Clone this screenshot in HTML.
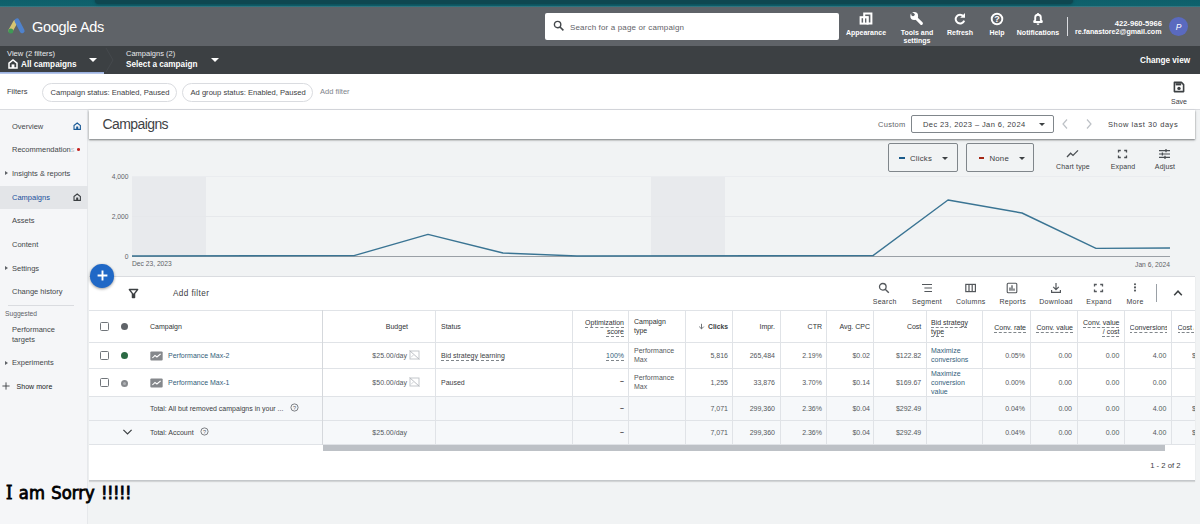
<!DOCTYPE html>
<html lang="en">
<head>
<meta charset="utf-8">
<title>Google Ads - Campaigns</title>
<style>
*{box-sizing:border-box;margin:0;padding:0}
html,body{width:1200px;height:524px;overflow:hidden;background:#f1f3f4;font-family:"Liberation Sans",sans-serif;color:#3c4043}
.a{position:absolute;white-space:nowrap}
#page{position:relative;width:1200px;height:524px;overflow:hidden;background:#f1f3f4}
/* top bands */
#teal{left:0;top:0;width:1200px;height:8px;background:linear-gradient(#0d5f6a 0,#0f626d 5.5px,#3c7d88 6.8px,#5f6f74 8px)}
#teal2{left:95px;top:0;width:978px;height:4px;background:#0f4750;border-radius:0 0 5px 5px;box-shadow:0 0 2.5px 0.5px #0f4750}
#hdr{left:0;top:7px;width:1200px;height:39px;background:#5f6368}
#nav{left:0;top:46px;width:1200px;height:28px;background:#3c4043}
#filt{left:0;top:74px;width:1200px;height:36px;background:#fff;border-bottom:1px solid #dadce0}
#side{left:0;top:110px;width:88px;height:414px;background:#f5f6f8;border-right:1px solid #e6e8eb}
.wt{color:#fff}
.hl{font-size:7px;font-weight:bold;color:#fff;text-align:center}
.chip{height:19px;border:1px solid #dadce0;border-radius:10px;font-size:7.6px;line-height:17px;color:#3c4043;padding:0 8px;background:#fff}
.sb{font-size:7.5px;color:#44474a;left:12px}
.tri{width:0;height:0;border-left:3px solid #5f6368;border-top:2px solid transparent;border-bottom:2px solid transparent}
/* table */
.vl{width:1px;background:#e0e3e7;top:310px;height:135px}
.hlne{height:1px;background:#e0e3e7;left:89px;width:1106px}
.th{font-size:7px;color:#303336;line-height:8px}
.td{font-size:7px;color:#54585c;line-height:8px}
.r{text-align:right}
.du{text-decoration:underline dashed #80868b;text-underline-offset:1.5px;text-decoration-thickness:1px}
.tb{font-size:7px;color:#3c4043;text-align:center;letter-spacing:0.15px}
.cb{width:9px;height:9px;border:1px solid #70757a;border-radius:1.5px;background:#fff}
</style>
</head>
<body>
<div id="page">
<div class="a" id="teal"></div>
<div class="a" id="teal2"></div>
<div class="a" id="hdr"></div>
<div class="a" id="nav"></div>
<div class="a" id="filt"></div>
<div class="a" id="side"></div>

<!-- logo -->
<svg class="a" style="left:7px;top:17px" width="20" height="19" viewBox="0 0 20 19">
<path d="M3.6 13.6 L8.2 5.4" stroke="#d6c472" stroke-width="4.4" stroke-linecap="round" fill="none"/>
<path d="M10 3.8 L15.2 13.8" stroke="#4f82cc" stroke-width="4.8" stroke-linecap="round" fill="none"/>
<circle cx="3.8" cy="14" r="2.5" fill="#3f9956"/>
</svg>
<div class="a wt" style="left:32px;top:18px;font-size:14.5px;line-height:18px;letter-spacing:-0.3px">Google Ads</div>

<!-- search -->
<div class="a" style="left:545px;top:13px;width:294px;height:27px;background:#fff;border-radius:2px"></div>
<svg class="a" style="left:553px;top:20px" width="12" height="12" viewBox="0 0 12 12"><circle cx="4.6" cy="4.6" r="3.2" fill="none" stroke="#44484c" stroke-width="1.4"/><path d="M7 7 L10.4 10.4" stroke="#44484c" stroke-width="1.6"/></svg>
<div class="a" style="left:570px;top:22.7px;font-size:8px;line-height:10px;color:#5f6368;letter-spacing:0.15px">Search for a page or campaign</div>

<!-- header icons -->
<svg class="a" style="left:859px;top:12px" width="14" height="13" viewBox="0 0 14 13"><path d="M5.2 1.4 H12.4 V11.6 H8.6 V5.2 H5.2 Z" fill="none" stroke="#fff" stroke-width="2"/><rect x="1.6" y="5.2" width="7" height="6.4" fill="none" stroke="#fff" stroke-width="2"/><rect x="4.1" y="6" width="1.9" height="5" fill="#fff"/></svg>
<div class="a hl" style="left:840px;top:28.5px;width:52px">Appearance</div>
<svg class="a" style="left:909px;top:11px" width="15" height="15" viewBox="0 0 15 15"><circle cx="5.2" cy="5" r="3.9" fill="#fff"/><circle cx="4" cy="3.6" r="1.7" fill="#5f6368"/><path d="M2 1.2 L4.6 3.8" stroke="#5f6368" stroke-width="1.8"/><path d="M7 7 L12.4 12.4" stroke="#fff" stroke-width="3" stroke-linecap="round"/></svg>
<div class="a hl" style="left:892px;top:28.5px;width:50px;white-space:normal;line-height:8px">Tools and settings</div>
<svg class="a" style="left:953px;top:12px" width="14" height="14" viewBox="0 0 14 14"><path d="M10.4 4.2 A4.4 4.4 0 1 0 11.2 8.6" fill="none" stroke="#fff" stroke-width="2"/><path d="M12 1 V5.8 H7.2 Z" fill="#fff"/></svg>
<div class="a hl" style="left:940px;top:28.5px;width:40px">Refresh</div>
<svg class="a" style="left:990px;top:12px" width="14" height="14" viewBox="0 0 14 14"><circle cx="7" cy="7" r="5.3" fill="none" stroke="#fff" stroke-width="1.9"/><text x="7" y="10.2" font-size="9" font-weight="bold" fill="#fff" text-anchor="middle" font-family="Liberation Sans, sans-serif">?</text></svg>
<div class="a hl" style="left:980px;top:28.5px;width:34px">Help</div>
<svg class="a" style="left:1031px;top:12px" width="14" height="14" viewBox="0 0 14 14"><path d="M3.2 10 V9.2 L4.2 8.2 V5.6 A2.8 2.8 0 0 1 9.8 5.6 V8.2 L10.8 9.2 V10 Z" fill="none" stroke="#fff" stroke-width="1.9" stroke-linejoin="round"/><circle cx="7" cy="2" r="1.1" fill="#fff"/><path d="M5.6 11.6 H8.4 A1.4 1.4 0 0 1 5.6 11.6Z" fill="#fff"/></svg>
<div class="a hl" style="left:1012px;top:28.5px;width:52px">Notifications</div>
<div class="a" style="left:1067px;top:17px;width:1px;height:19px;background:#dadce0"></div>
<div class="a hl r" style="left:1070px;top:18.5px;width:92px;text-align:right;font-weight:bold;font-size:7.6px">422-960-5966</div>
<div class="a hl r" style="left:1070px;top:27.7px;width:91.5px;text-align:right;font-weight:bold;font-size:7.1px">re.fanastore2@gmail.com</div>
<div class="a" style="left:1169px;top:17px;width:19px;height:19px;border-radius:50%;background:#5a6abf"></div>
<div class="a wt" style="left:1169px;top:22px;width:19px;text-align:center;font-size:8.5px;line-height:10px;font-style:italic">P</div>

<!-- nav bar -->
<div class="a wt" style="left:7px;top:50px;font-size:7.6px;line-height:8px;color:#e8eaed">View (2 filters)</div>
<svg class="a" style="left:8px;top:59px" width="10" height="10" viewBox="0 0 10 10"><path d="M1 4.2 L5 1 L9 4.2 V9 H1 Z" fill="none" stroke="#fff" stroke-width="1.5"/><rect x="3.6" y="5.4" width="2.8" height="3.6" fill="#fff"/></svg>
<div class="a wt" style="left:21px;top:60px;font-size:8.2px;line-height:9px;font-weight:bold">All campaigns</div>
<div class="a" style="left:89px;top:58px;width:0;height:0;border-top:4px solid #fff;border-left:4.5px solid transparent;border-right:4.5px solid transparent"></div>
<div class="a" style="left:0;top:72px;width:104px;height:2px;background:linear-gradient(#8fa9dc,#c3d0ee)"></div>
<svg class="a" style="left:104px;top:46px" width="12" height="28" viewBox="0 0 12 28"><path d="M2 2 L9 14 L2 26" fill="none" stroke="#45494d" stroke-width="1"/></svg>
<div class="a wt" style="left:126px;top:50px;font-size:7.5px;line-height:8px;color:#e8eaed">Campaigns (2)</div>
<div class="a wt" style="left:126px;top:60px;font-size:8.2px;line-height:9px;font-weight:bold">Select a campaign</div>
<div class="a" style="left:211px;top:58px;width:0;height:0;border-top:4px solid #fff;border-left:4.5px solid transparent;border-right:4.5px solid transparent"></div>
<div class="a wt" style="left:1140px;top:56px;font-size:8.2px;line-height:9px;font-weight:bold">Change view</div>

<!-- filter bar -->
<div class="a" style="left:7px;top:86.6px;font-size:7.5px;line-height:9px;color:#3c4043">Filters</div>
<div class="a chip" style="left:42px;top:82.8px;width:135px;padding-left:7.5px">Campaign status: Enabled, Paused</div>
<div class="a chip" style="left:182px;top:82.8px;width:130.5px;padding-left:7.5px">Ad group status: Enabled, Paused</div>
<div class="a" style="left:320px;top:87.4px;font-size:7.5px;line-height:9px;color:#80868b">Add filter</div>
<svg class="a" style="left:1173px;top:81px" width="12" height="12" viewBox="0 0 12 12"><path d="M1.4 1.4 H8.4 L10.6 3.6 V10.6 H1.4 Z" fill="none" stroke="#3c4043" stroke-width="1.6" stroke-linejoin="round"/><rect x="2.6" y="2.2" width="5.6" height="2.2" fill="#3c4043"/><circle cx="6" cy="7.4" r="1.7" fill="#3c4043"/></svg>
<div class="a" style="left:1169px;top:97.5px;width:20px;text-align:center;font-size:7px;line-height:8px;color:#3c4043">Save</div>

<!-- sidebar -->
<div class="a" style="left:0;top:186px;width:88px;height:23px;background:#e3e5e8"></div>
<div class="a sb" style="top:122px;line-height:9px">Overview</div>
<svg class="a" style="left:73px;top:122.4px" width="8.4" height="8.4" viewBox="0 0 10 10"><path d="M1.2 4.2 L5 1.2 L8.8 4.2 V8.8 H1.2 Z" fill="none" stroke="#1a5a96" stroke-width="1.3"/><rect x="3.8" y="5.4" width="2.4" height="3.4" fill="#1a5a96"/></svg>
<div class="a sb" style="top:145px;line-height:9px">Recommendation<span style="color:#bdc1c6">s</span></div>
<div class="a" style="left:77px;top:148.3px;width:3px;height:2.6px;border-radius:50%;background:#c5221f"></div>
<div class="a tri" style="left:5px;top:171px"></div>
<div class="a sb" style="top:169px;line-height:9px">Insights &amp; reports</div>
<div class="a sb" style="top:193px;line-height:9px;color:#1a4f9c">Campaigns</div>
<svg class="a" style="left:73px;top:193.4px" width="8.4" height="8.4" viewBox="0 0 10 10"><path d="M1.2 4.2 L5 1.2 L8.8 4.2 V8.8 H1.2 Z" fill="none" stroke="#3c4043" stroke-width="1.3"/><rect x="3.8" y="5.4" width="2.4" height="3.4" fill="#3c4043"/></svg>
<div class="a sb" style="top:216px;line-height:9px">Assets</div>
<div class="a sb" style="top:240px;line-height:9px">Content</div>
<div class="a tri" style="left:5px;top:266px"></div>
<div class="a sb" style="top:264px;line-height:9px">Settings</div>
<div class="a sb" style="top:287px;line-height:9px">Change history</div>
<div class="a" style="left:8px;top:305px;width:66px;height:1px;background:#dadce0"></div>
<div class="a" style="left:5px;top:310px;font-size:6.7px;line-height:8px;color:#5f6368">Suggested</div>
<div class="a sb" style="top:325px;line-height:9.5px;white-space:normal;width:60px">Performance targets</div>
<div class="a tri" style="left:5px;top:361px"></div>
<div class="a sb" style="top:358px;line-height:9px">Experiments</div>
<svg class="a" style="left:2px;top:381.5px" width="8" height="8" viewBox="0 0 8 8"><path d="M4 0.4 V7.6 M0.4 4 H7.6" stroke="#3c4043" stroke-width="0.9"/></svg>
<div class="a" style="left:16.5px;top:382.8px;font-size:7px;line-height:8px;color:#202124;letter-spacing:0.05px">Show more</div>

<!-- main title row -->
<div class="a" style="left:89px;top:110px;width:1106px;height:28.6px;background:#fff;box-shadow:0 1px 1.5px rgba(60,64,67,.55),0 1px 3px rgba(60,64,67,.2)"></div>
<div class="a" style="left:102.6px;top:115.6px;font-size:14px;line-height:17px;color:#3f4346;letter-spacing:-0.6px">Campaigns</div>
<div class="a" style="left:878px;top:120.4px;font-size:7.5px;line-height:9px;color:#5f6368;letter-spacing:0.3px">Custom</div>
<div class="a" style="left:911.4px;top:115.4px;width:142.4px;height:18px;border:1px solid #80868b;border-radius:2px;background:#fff"></div>
<div class="a" style="left:923px;top:120.4px;font-size:7.5px;line-height:9px;color:#3c4043;letter-spacing:0.4px">Dec 23, 2023 – Jan 6, 2024</div>
<div class="a" style="left:1039px;top:123.4px;width:0;height:0;border-top:3px solid #3c4043;border-left:3px solid transparent;border-right:3px solid transparent"></div>
<svg class="a" style="left:1061px;top:118.4px" width="8" height="12" viewBox="0 0 8 12"><path d="M6 1.5 L2 6 L6 10.5" fill="none" stroke="#bdc1c6" stroke-width="1.2"/></svg>
<svg class="a" style="left:1085px;top:118.4px" width="8" height="12" viewBox="0 0 8 12"><path d="M2 1.5 L6 6 L2 10.5" fill="none" stroke="#bdc1c6" stroke-width="1.2"/></svg>
<div class="a" style="left:1108px;top:120.4px;font-size:7.5px;line-height:9px;color:#3c4043;letter-spacing:0.55px">Show last 30 days</div>

<!-- chart -->
<div class="a" style="left:887.5px;top:143.4px;width:70px;height:28.2px;border:1px solid #80868b;border-radius:2px"></div>
<div class="a" style="left:899px;top:157.4px;width:5.5px;height:2px;background:#1a5a8a"></div>
<div class="a" style="left:910px;top:153.5px;font-size:7.8px;line-height:9px;color:#3c4043;letter-spacing:0.2px">Clicks</div>
<div class="a" style="left:942px;top:156.6px;width:0;height:0;border-top:3px solid #3c4043;border-left:3px solid transparent;border-right:3px solid transparent"></div>
<div class="a" style="left:965.8px;top:143.4px;width:67.8px;height:28.2px;border:1px solid #80868b;border-radius:2px"></div>
<div class="a" style="left:978.5px;top:157.4px;width:5.5px;height:2px;background:#a52714"></div>
<div class="a" style="left:989.5px;top:153.5px;font-size:7.8px;line-height:9px;color:#3c4043;letter-spacing:0.2px">None</div>
<div class="a" style="left:1019px;top:156.6px;width:0;height:0;border-top:3px solid #3c4043;border-left:3px solid transparent;border-right:3px solid transparent"></div>
<svg class="a" style="left:1066px;top:149px" width="13" height="10" viewBox="0 0 13 10"><path d="M1 8 L4.6 4.2 L7 6.4 L12 1.4" fill="none" stroke="#4a4e52" stroke-width="1.3"/></svg>
<div class="a tb" style="left:1052px;top:162.8px;width:42px;line-height:8px">Chart type</div>
<svg class="a" style="left:1117px;top:149px" width="11" height="10" viewBox="0 0 11 10"><path d="M1.5 3.6 V1.5 H3.8 M7.2 1.5 H9.5 V3.6 M9.5 6.4 V8.5 H7.2 M3.8 8.5 H1.5 V6.4" fill="none" stroke="#4a4e52" stroke-width="1.3"/></svg>
<div class="a tb" style="left:1104px;top:162.8px;width:38px;line-height:8px">Expand</div>
<svg class="a" style="left:1158px;top:148px" width="13" height="12" viewBox="0 0 13 12"><path d="M1 2.6 H12 M1 6 H12 M1 9.4 H12" stroke="#4a4e52" stroke-width="1.1"/><path d="M8 1 V4.2 M4.4 4.4 V7.6 M7 7.8 V11" stroke="#4a4e52" stroke-width="1.3"/></svg>
<div class="a tb" style="left:1146px;top:162.8px;width:38px;line-height:8px">Adjust</div>

<div class="a" style="left:132px;top:176px;width:74px;height:80px;background:#e8eaed"></div>
<div class="a" style="left:651px;top:176px;width:74px;height:80px;background:#e8eaed"></div>
<div class="a" style="left:132px;top:176px;width:1038px;height:1px;background:#eaecef"></div>
<div class="a" style="left:132px;top:216px;width:1038px;height:1px;background:#e6e8eb"></div>
<div class="a" style="left:132px;top:256px;width:1038px;height:1px;background:#9aa0a6"></div>
<div class="a r" style="left:100px;top:172.6px;width:28.5px;font-size:6.7px;line-height:8px;color:#5f6368">4,000</div>
<div class="a r" style="left:100px;top:212.6px;width:28.5px;font-size:6.7px;line-height:8px;color:#5f6368">2,000</div>
<div class="a r" style="left:100px;top:252.6px;width:28.5px;font-size:6.7px;line-height:8px;color:#5f6368">0</div>
<div class="a" style="left:132px;top:260px;font-size:6.7px;line-height:8px;color:#5f6368">Dec 23, 2023</div>
<div class="a r" style="left:1110px;top:260.6px;width:60px;font-size:6.7px;line-height:8px;color:#5f6368">Jan 6, 2024</div>
<svg class="a" style="left:0;top:0" width="1200" height="524" viewBox="0 0 1200 524"><polyline points="132,256 354,255.6 428,234.4 503,253 577,256 873,255.6 948,200 1022,213 1096,248.4 1170,248" fill="none" stroke="#3a7493" stroke-width="1.4" stroke-linejoin="round"/></svg>

<!-- table panel -->
<div class="a" style="left:89px;top:276px;width:1106px;height:205px;background:#fff;border-top:1px solid #dadce0;border-bottom:1px solid #c4c7ca;box-shadow:0 1px 1px rgba(0,0,0,.12)"></div>
<div class="a" style="left:90px;top:264px;width:23.6px;height:23.6px;border-radius:50%;background:#2068c6;box-shadow:0 1px 3px rgba(0,0,0,.4)"></div>
<svg class="a" style="left:96.2px;top:269.4px" width="13" height="13" viewBox="0 0 13 13"><path d="M6.5 1.6 V11.4 M1.6 6.5 H11.4" stroke="#fff" stroke-width="1.9"/></svg>
<svg class="a" style="left:127.9px;top:288px" width="11" height="11" viewBox="0 0 11 11"><path d="M1.4 1.6 H9.6 L6.5 5.6 V9.4 H4.5 V5.6 Z" fill="none" stroke="#3c4043" stroke-width="1.5" stroke-linejoin="round"/><path d="M4.5 5.6 H6.5 V9.4 H4.5 Z" fill="#3c4043"/></svg>
<div class="a" style="left:173px;top:288.9px;font-size:8.2px;line-height:9px;color:#3c4043;letter-spacing:0.4px">Add filter</div>

<svg class="a" style="left:878px;top:281.5px" width="12" height="12" viewBox="0 0 12 12"><circle cx="4.8" cy="4.8" r="3.3" fill="none" stroke="#54585c" stroke-width="1.3"/><path d="M7.2 7.2 L10.8 10.8" stroke="#54585c" stroke-width="1.4"/></svg>
<div class="a tb" style="left:866.7px;top:297.6px;letter-spacing:0.3px;width:36px;line-height:8px">Search</div>
<svg class="a" style="left:921px;top:282.5px" width="12" height="10" viewBox="0 0 12 10"><path d="M1 1.5 H11 M3.4 5 H11 M3.4 8.5 H11" stroke="#54585c" stroke-width="1.1"/></svg>
<div class="a tb" style="left:907px;top:297.6px;letter-spacing:0.3px;width:40px;line-height:8px">Segment</div>
<svg class="a" style="left:964px;top:282.5px" width="12" height="10" viewBox="0 0 12 10"><rect x="1.8" y="1.4" width="9.6" height="7.2" fill="none" stroke="#54585c" stroke-width="1.2"/><path d="M5 1.4 V8.6 M8.2 1.4 V8.6" stroke="#54585c" stroke-width="1.2"/></svg>
<div class="a tb" style="left:950.8px;top:297.6px;letter-spacing:0.3px;width:40px;line-height:8px">Columns</div>
<svg class="a" style="left:1006px;top:281.5px" width="12" height="12" viewBox="0 0 12 12"><rect x="1.2" y="1.2" width="9.6" height="9.6" rx="1" fill="none" stroke="#54585c" stroke-width="1.1"/><path d="M4 8.8 V5.4 M6 8.8 V3.2 M8 8.8 V6.4" stroke="#54585c" stroke-width="1.3"/></svg>
<div class="a tb" style="left:992.7px;top:297.6px;letter-spacing:0.3px;width:40px;line-height:8px">Reports</div>
<svg class="a" style="left:1050px;top:281.5px" width="12" height="12" viewBox="0 0 12 12"><path d="M6 1 V7.4 M3.2 4.8 L6 7.6 L8.8 4.8 M1.6 8 V10.4 H10.4 V8" fill="none" stroke="#54585c" stroke-width="1.2"/></svg>
<div class="a tb" style="left:1034px;top:297.6px;letter-spacing:0.3px;width:44px;line-height:8px">Download</div>
<svg class="a" style="left:1093px;top:282.5px" width="11" height="10" viewBox="0 0 11 10"><path d="M1.5 3.6 V1.5 H3.8 M7.2 1.5 H9.5 V3.6 M9.5 6.4 V8.5 H7.2 M3.8 8.5 H1.5 V6.4" fill="none" stroke="#54585c" stroke-width="1.3"/></svg>
<div class="a tb" style="left:1080px;top:297.6px;letter-spacing:0.3px;width:38px;line-height:8px">Expand</div>
<svg class="a" style="left:1133px;top:282.3px" width="4" height="12" viewBox="0 0 4 12"><circle cx="2" cy="2.2" r="1.05" fill="#54585c"/><circle cx="2" cy="5.4" r="1.05" fill="#54585c"/><circle cx="2" cy="8.6" r="1.05" fill="#54585c"/></svg>
<div class="a tb" style="left:1119px;top:297.6px;letter-spacing:0.3px;width:32px;line-height:8px">More</div>
<div class="a" style="left:1156px;top:284px;width:1px;height:18px;background:#9aa0a6"></div>
<svg class="a" style="left:1173px;top:288.6px" width="10" height="8" viewBox="0 0 10 8"><path d="M1.2 6.2 L5 2.2 L8.8 6.2" fill="none" stroke="#3c4043" stroke-width="1.5"/></svg>

<!-- table grid -->
<div class="a" style="left:89px;top:396px;width:1106px;height:49px;background:#f6f8fa"></div>
<div class="a hlne" style="top:310px"></div>
<div class="a hlne" style="top:342px"></div>
<div class="a hlne" style="top:368px"></div>
<div class="a hlne" style="top:395.6px"></div>
<div class="a hlne" style="top:420px"></div>
<div class="a hlne" style="top:444px"></div>
<div class="a vl" style="left:322px;background:#d5d8dc"></div>
<div class="a vl" style="left:435px"></div>
<div class="a vl" style="left:572px"></div>
<div class="a vl" style="left:628.4px"></div>
<div class="a vl" style="left:685px"></div>
<div class="a vl" style="left:732px"></div>
<div class="a vl" style="left:780px"></div>
<div class="a vl" style="left:826px"></div>
<div class="a vl" style="left:873.2px"></div>
<div class="a vl" style="left:926px"></div>
<div class="a vl" style="left:982px"></div>
<div class="a vl" style="left:1030px"></div>
<div class="a vl" style="left:1077px"></div>
<div class="a vl" style="left:1124px"></div>
<div class="a vl" style="left:1171px"></div>
<div class="a" style="left:323px;top:445px;width:842px;height:6px;background:#bdc1c6"></div>

<!-- header row -->
<div class="a cb" style="left:100.2px;top:321.6px"></div>
<div class="a" style="left:121px;top:322.6px;width:7px;height:7px;border-radius:50%;background:#5f6368"></div>
<div class="a th" style="left:150px;top:322.6px">Campaign</div>
<div class="a th r" style="left:370px;top:322.6px;width:38px">Budget</div>
<div class="a th" style="left:441px;top:322.6px">Status</div>
<div class="a th r" style="left:570px;top:317.8px;width:54px;line-height:9.2px"><span class="du">Optimization</span><br><span class="du">score</span></div>
<div class="a th" style="left:634px;top:318px;width:40px;white-space:normal;line-height:8.8px">Campaign type</div>
<svg class="a" style="left:698px;top:323px" width="7" height="7" viewBox="0 0 7 7"><path d="M3.5 0.8 V5.8 M1.2 3.6 L3.5 5.9 L5.8 3.6" fill="none" stroke="#5f6368" stroke-width="0.9"/></svg><div class="a th r" style="left:690px;top:322.6px;width:38px;font-weight:bold;font-size:6.8px;color:#3c4043">Clicks</div>
<div class="a th r" style="left:740px;top:322.6px;width:35px">Impr.</div>
<div class="a th r" style="left:790px;top:322.6px;width:32px">CTR</div>
<div class="a th r" style="left:832px;top:322.6px;width:38px">Avg. CPC</div>
<div class="a th r" style="left:889.3px;top:322.6px;width:32px">Cost</div>
<div class="a th" style="left:931px;top:318.8px;width:50px;line-height:8.8px"><span class="du">Bid strategy</span><br><span class="du">type</span></div>
<div class="a th r du" style="left:986px;top:323.6px;width:40px">Conv. rate</div>
<div class="a th r du" style="left:1034px;top:323.6px;width:39px">Conv. value</div>
<div class="a th r" style="left:1076px;top:318px;width:43.5px;line-height:9.4px"><span class="du">Conv. value</span><br><span class="du">/ cost</span></div>
<div class="a th du" style="left:1129.6px;top:323.6px;width:37.2px;height:12px;overflow:hidden">Conversions</div>
<div class="a th du" style="left:1177.5px;top:323.6px;width:16.6px;height:12px;overflow:hidden">Cost / conv.</div>

<!-- row 1 -->
<div class="a cb" style="left:100.2px;top:350.6px"></div>
<div class="a" style="left:121px;top:351.6px;width:7px;height:7px;border-radius:50%;background:#2b6a44"></div>
<svg class="a" style="left:150px;top:350.6px" width="13" height="10" viewBox="0 0 12 10" preserveAspectRatio="none"><rect x="0.3" y="0.5" width="11.4" height="9" rx="1" fill="#85888c"/><path d="M2.2 7 L4.6 4.4 L6.4 6 L9.8 2.8" fill="none" stroke="#fff" stroke-width="1.1"/></svg>
<div class="a td" style="left:168px;top:351.6px;color:#33607a">Performance Max-2</div>
<div class="a td r" style="left:359px;top:351.6px;width:48px">$25.00/day</div>
<svg class="a" style="left:409px;top:349.6px" width="11" height="10" viewBox="0 0 11 10"><rect x="1" y="1" width="9" height="8" fill="none" stroke="#bdc1c6" stroke-width="0.9"/><path d="M0.6 0.6 L10.4 9.4" fill="none" stroke="#b4b8bd" stroke-width="0.9"/><path d="M2 7.4 L4.4 5" fill="none" stroke="#c4c8cc" stroke-width="0.8"/></svg>
<div class="a td du" style="left:441px;top:351.6px;color:#3c4043">Bid strategy learning</div>
<div class="a td r du" style="left:590px;top:351.6px;width:34px;color:#33607a">100%</div>
<div class="a td" style="left:634px;top:345.6px;width:46px;white-space:normal;line-height:9.8px">Performance Max</div>
<div class="a td r" style="left:690px;top:351.6px;width:38px">5,816</div>
<div class="a td r" style="left:740px;top:351.6px;width:35px">265,484</div>
<div class="a td r" style="left:790px;top:351.6px;width:32px">2.19%</div>
<div class="a td r" style="left:832px;top:351.6px;width:38px">$0.02</div>
<div class="a td r" style="left:884.2px;top:351.6px;width:37px">$122.82</div>
<div class="a td" style="left:931px;top:347.2px;width:46px;white-space:normal;line-height:8.9px;color:#33607a">Maximize conversions</div>
<div class="a td r" style="left:986px;top:351.6px;width:39px">0.05%</div>
<div class="a td r" style="left:1033px;top:351.6px;width:39px">0.00</div>
<div class="a td r" style="left:1079.3px;top:351.6px;width:40px">0.00</div>
<div class="a td r" style="left:1126.3px;top:351.6px;width:40px">4.00</div>
<div class="a td" style="left:1192px;top:351.6px;width:3px;overflow:hidden">$</div>

<!-- row 2 -->
<div class="a cb" style="left:100.2px;top:377.9px"></div>
<div class="a" style="left:121px;top:379.9px;width:7px;height:7px;border-radius:50%;background:#85888c"></div>
<div class="a" style="left:123px;top:381.9px;width:3px;height:3px;border-radius:50%;background:#aeb1b4"></div>
<svg class="a" style="left:150px;top:377.9px" width="13" height="10" viewBox="0 0 12 10" preserveAspectRatio="none"><rect x="0.3" y="0.5" width="11.4" height="9" rx="1" fill="#85888c"/><path d="M2.2 7 L4.6 4.4 L6.4 6 L9.8 2.8" fill="none" stroke="#fff" stroke-width="1.1"/></svg>
<div class="a td" style="left:168px;top:378.9px;color:#33607a">Performance Max-1</div>
<div class="a td r" style="left:359px;top:378.9px;width:48px">$50.00/day</div>
<svg class="a" style="left:409px;top:376.9px" width="11" height="10" viewBox="0 0 11 10"><rect x="1" y="1" width="9" height="8" fill="none" stroke="#bdc1c6" stroke-width="0.9"/><path d="M0.6 0.6 L10.4 9.4" fill="none" stroke="#b4b8bd" stroke-width="0.9"/><path d="M2 7.4 L4.4 5" fill="none" stroke="#c4c8cc" stroke-width="0.8"/></svg>
<div class="a td" style="left:441px;top:378.9px;color:#3c4043">Paused</div>
<div class="a td r" style="left:590px;top:377.4px;width:34px;color:#3c4043;font-weight:bold">–</div>
<div class="a td" style="left:634px;top:373.2px;width:46px;white-space:normal;line-height:9.3px">Performance Max</div>
<div class="a td r" style="left:690px;top:378.9px;width:38px">1,255</div>
<div class="a td r" style="left:740px;top:378.9px;width:35px">33,876</div>
<div class="a td r" style="left:790px;top:378.9px;width:32px">3.70%</div>
<div class="a td r" style="left:832px;top:378.9px;width:38px">$0.14</div>
<div class="a td r" style="left:884.2px;top:378.9px;width:37px">$169.67</div>
<div class="a td" style="left:931px;top:370.2px;width:46px;white-space:normal;line-height:8.9px;color:#33607a">Maximize conversion value</div>
<div class="a td r" style="left:986px;top:378.9px;width:39px">0.00%</div>
<div class="a td r" style="left:1033px;top:378.9px;width:39px">0.00</div>
<div class="a td r" style="left:1079.3px;top:378.9px;width:40px">0.00</div>
<div class="a td r" style="left:1126.3px;top:378.9px;width:40px">0.00</div>

<!-- total 1 -->
<div class="a td" style="left:150px;top:404.9px;color:#3c4043">Total: All but removed campaigns in your ...</div>
<svg class="a" style="left:290px;top:402.9px" width="9" height="9" viewBox="0 0 9 9"><circle cx="4.5" cy="4.5" r="3.6" fill="none" stroke="#5f6368" stroke-width="0.8"/><text x="4.5" y="6.6" font-size="5.5" fill="#5f6368" text-anchor="middle" font-family="Liberation Sans, sans-serif">?</text></svg>
<div class="a td r" style="left:590px;top:403.9px;width:34px;color:#3c4043;font-weight:bold">–</div>
<div class="a td r" style="left:690px;top:404.9px;width:38px">7,071</div>
<div class="a td r" style="left:740px;top:404.9px;width:35px">299,360</div>
<div class="a td r" style="left:790px;top:404.9px;width:32px">2.36%</div>
<div class="a td r" style="left:832px;top:404.9px;width:38px">$0.04</div>
<div class="a td r" style="left:884.2px;top:404.9px;width:37px">$292.49</div>
<div class="a td r" style="left:986px;top:404.9px;width:39px">0.04%</div>
<div class="a td r" style="left:1033px;top:404.9px;width:39px">0.00</div>
<div class="a td r" style="left:1079.3px;top:404.9px;width:40px">0.00</div>
<div class="a td r" style="left:1126.3px;top:404.9px;width:40px">4.00</div>
<div class="a td" style="left:1192px;top:404.9px;width:3px;overflow:hidden">$</div>

<!-- total 2 -->
<svg class="a" style="left:122px;top:428.4px" width="11" height="8" viewBox="0 0 11 8"><path d="M1.4 1.8 L5.5 6 L9.6 1.8" fill="none" stroke="#3c4043" stroke-width="1.2"/></svg>
<div class="a td" style="left:150px;top:429.4px;color:#3c4043">Total: Account</div>
<svg class="a" style="left:200px;top:427.4px" width="9" height="9" viewBox="0 0 9 9"><circle cx="4.5" cy="4.5" r="3.6" fill="none" stroke="#5f6368" stroke-width="0.8"/><text x="4.5" y="6.6" font-size="5.5" fill="#5f6368" text-anchor="middle" font-family="Liberation Sans, sans-serif">?</text></svg>
<div class="a td r" style="left:359px;top:429.4px;width:48px">$25.00/day</div>
<div class="a td r" style="left:590px;top:428.4px;width:34px;color:#3c4043;font-weight:bold">–</div>
<div class="a td r" style="left:690px;top:429.4px;width:38px">7,071</div>
<div class="a td r" style="left:740px;top:429.4px;width:35px">299,360</div>
<div class="a td r" style="left:790px;top:429.4px;width:32px">2.36%</div>
<div class="a td r" style="left:832px;top:429.4px;width:38px">$0.04</div>
<div class="a td r" style="left:884.2px;top:429.4px;width:37px">$292.49</div>
<div class="a td r" style="left:986px;top:429.4px;width:39px">0.04%</div>
<div class="a td r" style="left:1033px;top:429.4px;width:39px">0.00</div>
<div class="a td r" style="left:1079.3px;top:429.4px;width:40px">0.00</div>
<div class="a td r" style="left:1126.3px;top:429.4px;width:40px">4.00</div>
<div class="a td" style="left:1192px;top:429.4px;width:3px;overflow:hidden">$</div>

<div class="a r" style="left:1130px;top:461.8px;width:50.5px;font-size:7.7px;line-height:8px;color:#3c4043">1 - 2 of 2</div>

<!-- caption -->
<div class="a" style="left:6px;top:480.8px;word-spacing:1.1px;font-family:'DejaVu Sans Condensed','DejaVu Sans','Liberation Sans',sans-serif;font-size:18.2px;line-height:24px;color:#000;letter-spacing:0.05px;-webkit-text-stroke:0.8px #000"><span style="font-family:'DejaVu Serif Condensed','DejaVu Serif',serif">I</span> am Sorry <span style="letter-spacing:-0.55px">!!!!!</span></div>
</div>
</body>
</html>
